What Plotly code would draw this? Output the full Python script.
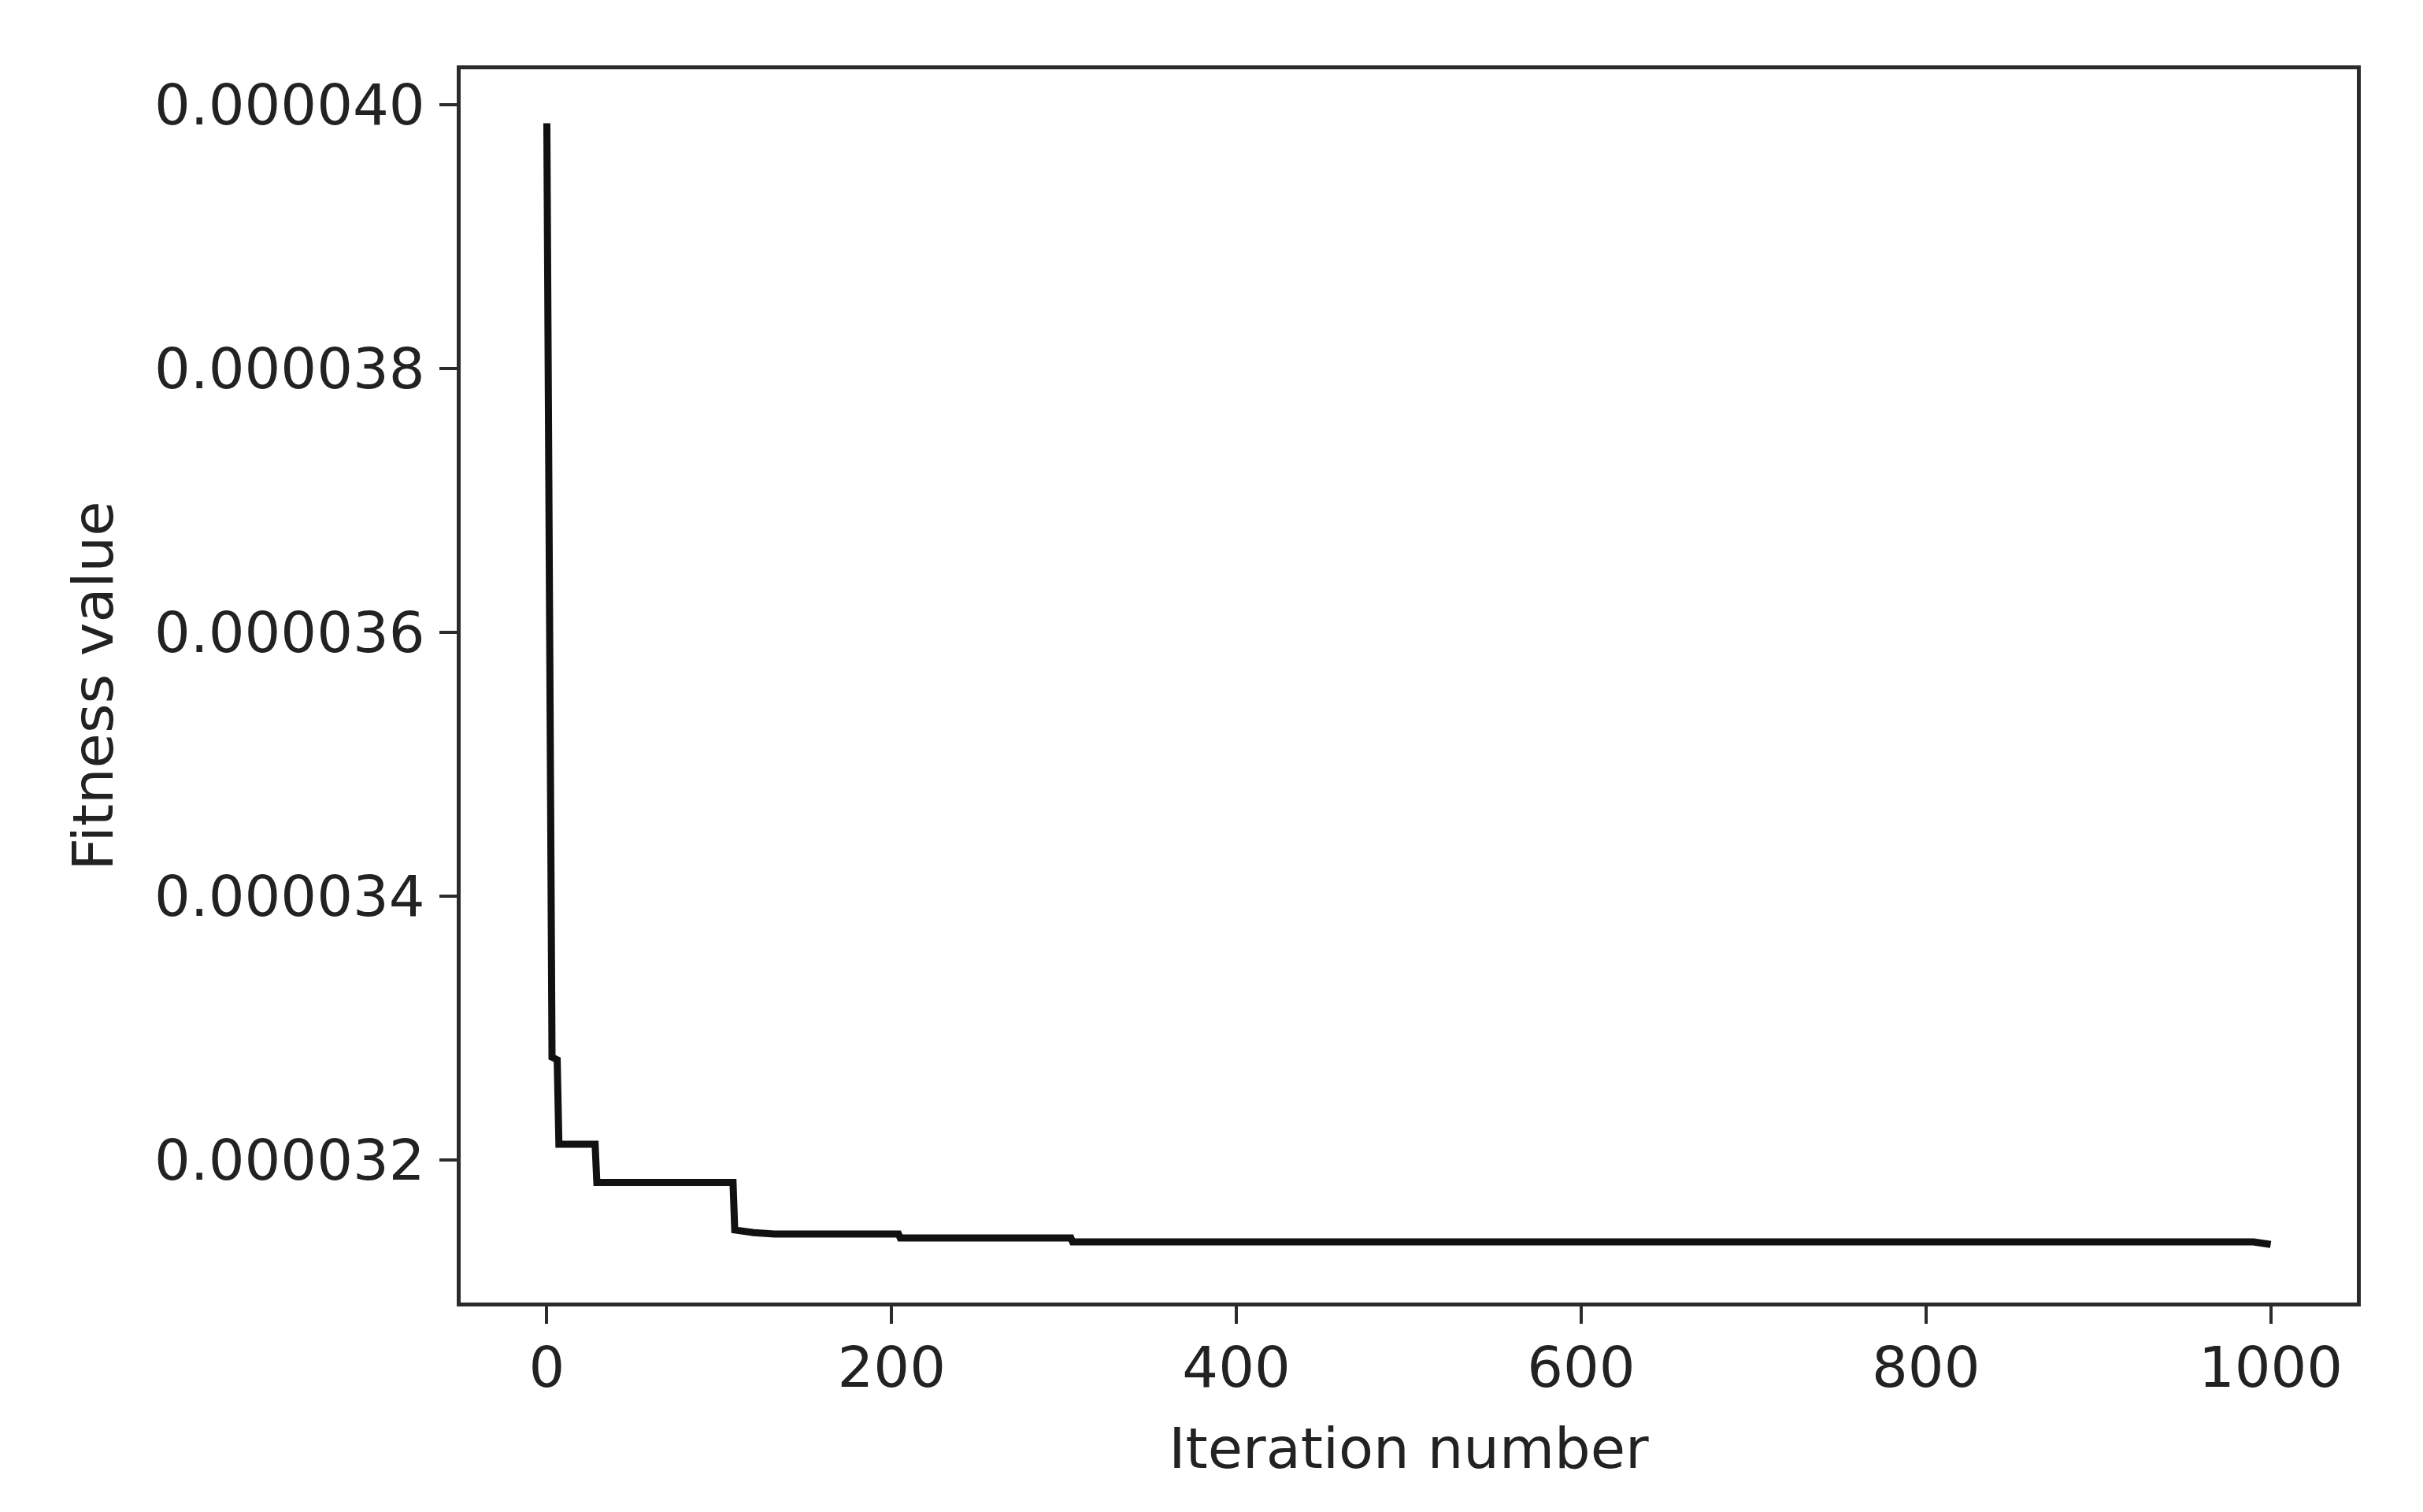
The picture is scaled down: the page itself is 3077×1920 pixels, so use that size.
import plotly.graph_objects as go

# convergence curve (iteration -> best fitness)
iterations = [0, 1, 2, 3, 6, 7, 28, 29, 108, 109, 120, 132, 204, 205, 304, 305, 990, 1000]
fitness = [3.986e-5, 3.700e-5, 3.681e-5, 3.278e-5, 3.276e-5, 3.212e-5, 3.212e-5, 3.183e-5,
           3.183e-5, 3.147e-5, 3.145e-5, 3.144e-5, 3.144e-5, 3.141e-5, 3.141e-5, 3.138e-5,
           3.138e-5, 3.136e-5]

x_ticks = [0, 200, 400, 600, 800, 1000]
y_ticks = [0.000032, 0.000034, 0.000036, 0.000038, 0.000040]
y_tick_text = ["0.000032", "0.000034", "0.000036", "0.000038", "0.000040"]

font = "DejaVu Sans"
axis_col = "#2b2b2b"

fig = go.Figure()
fig.add_trace(go.Scatter(x=iterations, y=fitness, mode="lines",
                         line=dict(color="#111111", width=9), showlegend=False))

# page body adds an 8px margin, so the figure is 8px smaller than the window
fig.update_layout(
    width=3069, height=1912,
    paper_bgcolor="white", plot_bgcolor="white",
    margin=dict(l=577, r=84, t=80, b=266),
    font=dict(family=font, size=72, color="#222222"),
)

fig.update_xaxes(
    range=[-50, 1050], tickvals=x_ticks, ticks="outside", ticklen=22, tickwidth=4,
    tickcolor=axis_col, showline=True, linecolor=axis_col, linewidth=5, mirror=True,
    showgrid=False, zeroline=False, ticklabelstandoff=-6,
    title=dict(text="Iteration number", standoff=38, font=dict(size=72)),
)
fig.update_yaxes(
    range=[0.00003092, 0.0000402694], tickvals=y_ticks, ticktext=y_tick_text,
    ticks="outside", ticklen=22, tickwidth=4, tickcolor=axis_col,
    showline=True, linecolor=axis_col, linewidth=5, mirror=True,
    showgrid=False, zeroline=False, ticklabelstandoff=4,
    title=dict(text="Fitness value", standoff=30, font=dict(size=72)),
)

fig.write_html("out.html")
